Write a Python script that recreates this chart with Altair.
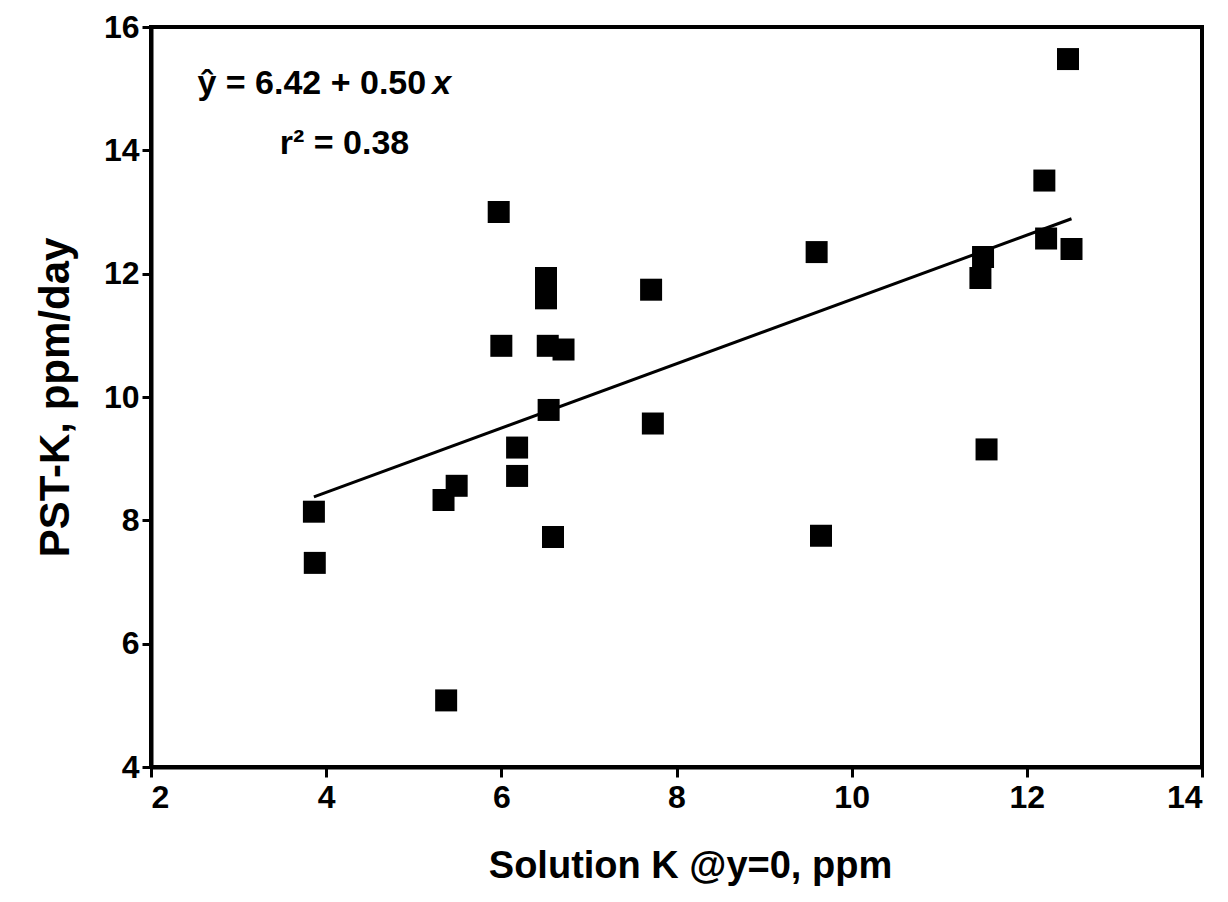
import altair as alt
import pandas as pd

# Scatter data
solution_k = [3.86, 3.87, 5.37, 5.34, 5.49, 5.97, 6.00, 6.18, 6.18, 6.51, 6.51, 6.53, 6.71,
              6.54, 6.59, 7.71, 7.73, 9.60, 9.65, 11.50, 11.47, 11.54, 12.20, 12.22, 12.51, 12.47]
pst_k = [8.14, 7.31, 5.08, 8.33, 8.56, 13.00, 10.83, 9.18, 8.72, 11.93, 11.60, 10.83, 10.77,
         9.79, 7.73, 11.74, 9.57, 12.35, 7.75, 12.27, 11.93, 9.15, 13.51, 12.57, 12.40, 15.48]

# Fitted regression line (end points as drawn)
fit_x = [3.86, 12.51]
fit_y = [8.38, 12.89]

# Annotation text
eq_text = ["ŷ = 6.42 + 0.50"]
eq_x = [2.53]
eq_y = [15.08]
eq_var_text = ["x"]
eq_var_x = [5.21]
r2_text = ["r² = 0.38"]
r2_x = [3.47]
r2_y = [14.10]

x_ticks = [2, 4, 6, 8, 10, 12, 14]
y_ticks = [4, 6, 8, 10, 12, 14, 16]

FONT = "Liberation Sans"

pts = pd.DataFrame({"x": solution_k, "y": pst_k})
fit = pd.DataFrame({"x": fit_x, "y": fit_y})
eq = pd.DataFrame({"x": eq_x, "y": eq_y, "t": eq_text})
eqv = pd.DataFrame({"x": eq_var_x, "y": eq_y, "t": eq_var_text})
r2 = pd.DataFrame({"x": r2_x, "y": r2_y, "t": r2_text})

xs = alt.Scale(domain=[2, 14], nice=False, zero=False)
ys = alt.Scale(domain=[4, 16], nice=False, zero=False)

common_axis = dict(grid=False, domainColor="black", domainWidth=4, tickColor="black",
                   tickWidth=3, labelFont=FONT, labelFontWeight="bold", labelFontSize=32,
                   labelColor="black", titleFont=FONT, titleFontWeight="bold",
                   titleColor="black", format="d")

x_axis = alt.Axis(values=x_ticks, title="Solution K @y=0, ppm", tickSize=10,
                  labelPadding=5, titlePadding=34, titleFontSize=38, titleX=539,
                  **common_axis)
y_axis = alt.Axis(values=y_ticks, title="PST-K, ppm/day", tickSize=9,
                  labelPadding=3, titlePadding=26, titleFontSize=42, **common_axis)

points = alt.Chart(pts).mark_point(shape="square", filled=True, size=484,
                                   color="black", opacity=1).encode(
    x=alt.X("x:Q", scale=xs, axis=x_axis),
    y=alt.Y("y:Q", scale=ys, axis=y_axis),
)

line = alt.Chart(fit).mark_line(color="black", strokeWidth=3).encode(
    x=alt.X("x:Q", scale=xs), y=alt.Y("y:Q", scale=ys))


def label(df, italic=False):
    kw = dict(align="left", baseline="middle", font=FONT, fontSize=34,
              fontWeight="bold", color="black")
    if italic:
        kw["fontStyle"] = "italic"
    return alt.Chart(df).mark_text(**kw).encode(
        x=alt.X("x:Q", scale=xs), y=alt.Y("y:Q", scale=ys), text="t:N")


chart = alt.layer(points, line, label(eq), label(eqv, italic=True), label(r2)).properties(
    width=1051, height=740, autosize="none",
    padding={"left": 143, "top": 19, "right": 18, "bottom": 127},
    background="white",
).configure_view(stroke="black", strokeWidth=4)

chart.save("out.html", embed_options={"renderer": "svg", "actions": False})
